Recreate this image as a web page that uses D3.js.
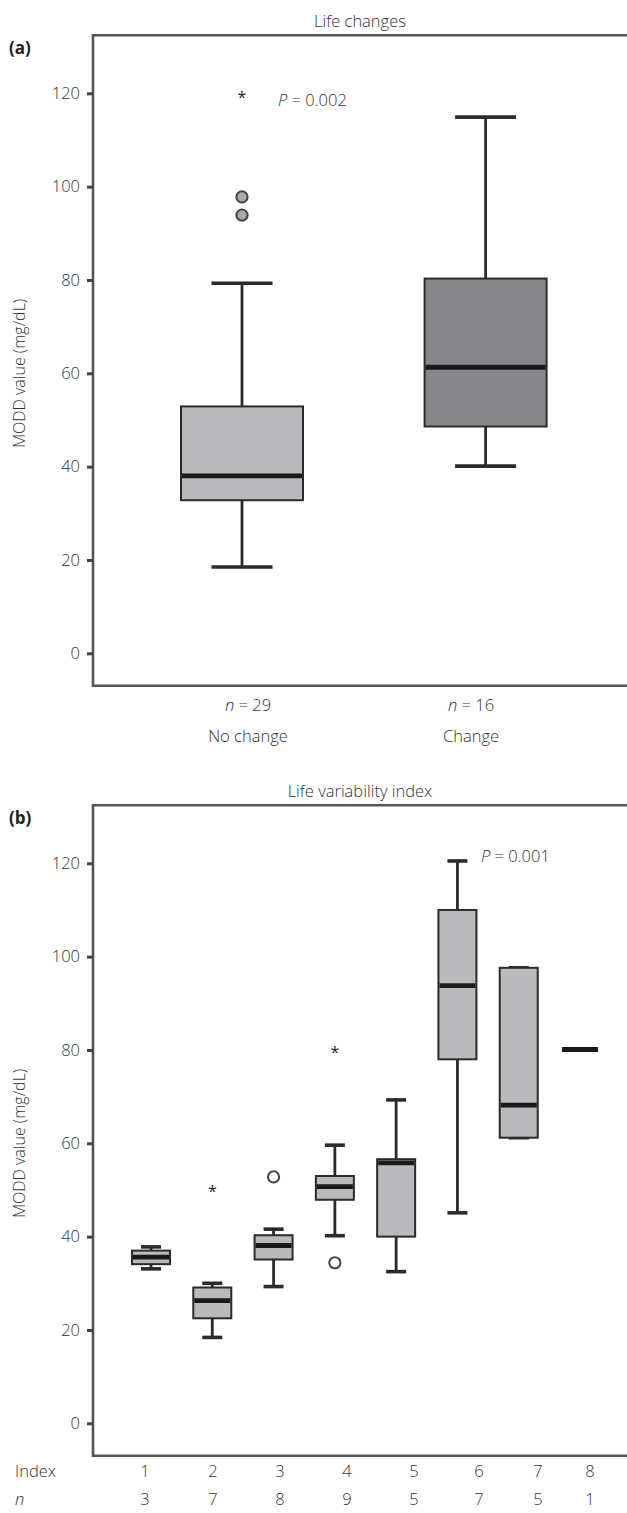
<!DOCTYPE html>
<html><head><meta charset="utf-8">
<script src="https://cdn.jsdelivr.net/npm/d3@7"></script>
<style>
body{margin:0;background:#fff}
text{font-family:"Open Sans","Noto Sans",sans-serif;fill:#333;font-weight:300}
</style>
</head><body><svg id="c" width="627" height="1513"></svg>
<script>
// ---------- data ----------
const yTicks = [0, 20, 40, 60, 80, 100, 120];

// Panel (a) Life changes
const aCats = ["No change", "Change"];
const aN = [29, 16];
const aLo  = [18.5, 40.1];
const aQ1  = [32.8, 48.6];
const aMed = [38.0, 61.3];
const aQ3  = [52.9, 80.3];
const aHi  = [79.3, 114.9];
const aOutCat = [0, 0];        const aOutVal = [97.8, 93.9];
const aExtCat = [0];           const aExtVal = [119.4];

// Panel (b) Life variability index
const bCats = ["1", "2", "3", "4", "5", "6", "7", "8"];
const bN = [3, 7, 8, 9, 5, 7, 5, 1];
const bLo  = [33.1, 18.4, 29.3, 40.2, 32.5, 45.1, 61.2, 80.1];
const bQ1  = [34.1, 22.5, 35.1, 47.9, 40.0, 78.0, 61.2, 80.1];
const bMed = [35.6, 26.3, 38.1, 50.7, 55.8, 93.8, 68.2, 80.1];
const bQ3  = [37.0, 29.1, 40.3, 53.0, 56.6, 110.0, 97.6, 80.1];
const bHi  = [37.8, 30.0, 41.6, 59.6, 69.3, 120.5, 97.6, 80.1];
const bOutCat = [2, 3];        const bOutVal = [52.8, 34.4];
const bExtCat = [1, 3];        const bExtVal = [50.0, 79.8];

// ---------- layout ----------
const W = 627;
const left = 93;
const frameCol = "#555", dark = "#2b2b2b";
// the category label row under panel (b) is typeset unevenly in the original
const bLabelRange = [145, 213, 280, 347, 414, 479, 538, 590];

const svg = d3.select("#c");

function panel(o) {
  const g = svg.append("g");
  const y = d3.scaleLinear().domain([0, 120]).range([o.y0, o.y0 - 560]);
  const top = o.y0 - 618, bottom = o.y0 + 32.5;

  g.append("text").attr("x", 360).attr("y", top - 8).attr("text-anchor", "middle")
    .style("font-size", "16.5px").text(o.title);
  g.append("text").attr("x", 9).attr("y", top + 19).style("font-size", "17px")
    .style("font-weight", 700).style("fill", "#222").text(o.letter);

  g.append("path").attr("d", `M${W+5},${top}H${left}V${bottom}H${W+5}`)
    .attr("fill", "none").attr("stroke", frameCol).attr("stroke-width", 2.6);

  const ax = g.append("g").attr("transform", `translate(${left},0)`)
    .call(d3.axisLeft(y).tickValues(yTicks).tickSize(6).tickPadding(7));
  ax.select(".domain").remove();
  ax.selectAll(".tick line").attr("stroke", "#444").attr("stroke-width", 3);
  ax.selectAll(".tick text").style("font-size", "16.5px").style("font-family", '"Open Sans",sans-serif')
    .style("font-weight", 300).attr("fill", "#333");

  g.append("text").attr("transform", `translate(25,${y(60)}) rotate(-90)`)
    .attr("text-anchor", "middle").style("font-size", "16px").text("MODD value (mg/dL)");

  const x = o.x;
  const bw = o.bw, cw = o.cw;
  const idx = d3.range(o.cats.length);
  const bx = g.append("g");

  bx.selectAll(".wh").data(idx).join("line")
    .attr("x1", i => x(o.cats[i])).attr("x2", i => x(o.cats[i]))
    .attr("y1", i => y(o.hi[i])).attr("y2", i => y(o.lo[i]))
    .attr("stroke", dark).attr("stroke-width", 2.8);
  [o.hi, o.lo].forEach(arr => {
    bx.selectAll(null).data(idx.filter(i => o.hi[i] !== o.lo[i])).join("line")
      .attr("x1", i => x(o.cats[i]) - cw / 2).attr("x2", i => x(o.cats[i]) + cw / 2)
      .attr("y1", i => y(arr[i])).attr("y2", i => y(arr[i]))
      .attr("stroke", dark).attr("stroke-width", 3.6);
  });
  bx.selectAll(".box").data(idx.filter(i => o.q3[i] !== o.q1[i])).join("rect")
    .attr("x", i => x(o.cats[i]) - bw / 2).attr("width", bw)
    .attr("y", i => y(o.q3[i])).attr("height", i => y(o.q1[i]) - y(o.q3[i]))
    .attr("fill", i => o.fill[i]).attr("stroke", dark).attr("stroke-width", 2);
  bx.selectAll(".med").data(idx).join("line")
    .attr("x1", i => x(o.cats[i]) - bw / 2 + 1).attr("x2", i => x(o.cats[i]) + bw / 2 - 1)
    .attr("y1", i => y(o.med[i])).attr("y2", i => y(o.med[i]))
    .attr("stroke", "#1a1a1a").attr("stroke-width", 4.8);

  bx.selectAll(".out").data(o.outCat.map((c, k) => ({ c, v: o.outVal[k] }))).join("circle")
    .attr("cx", d => x(o.cats[d.c])).attr("cy", d => y(d.v)).attr("r", 5.6)
    .attr("fill", o.outFill).attr("stroke", "#444").attr("stroke-width", 2);
  bx.selectAll(".ext").data(o.extCat.map((c, k) => ({ c, v: o.extVal[k] }))).join("text")
    .attr("x", d => x(o.cats[d.c])).attr("y", d => y(d.v) + 7).attr("text-anchor", "middle")
    .style("font-size", "16px").style("font-weight", 400).style("fill", "#222").text("*");

  const pt = g.append("text").attr("x", o.px).attr("y", y(o.pv) + 6).style("font-size", "16.5px");
  pt.append("tspan").style("font-style", "italic").text("P");
  pt.append("tspan").text(" = " + o.ptext);

  return { g, y, bottom };
}

// Panel (a)
const xA = d3.scalePoint().domain(aCats).range([242, 485.6]);
const A = panel({
  title: "Life changes", letter: "(a)", y0: 653.3, x: xA, cats: aCats,
  lo: aLo, q1: aQ1, med: aMed, q3: aQ3, hi: aHi,
  outCat: aOutCat, outVal: aOutVal, extCat: aExtCat, extVal: aExtVal,
  fill: ["#b9babd", "#86878b"], outFill: "#a9aaad", bw: 122, cw: 61,
  px: 278, pv: 118.5, ptext: "0.002"
});
const xAl = d3.scalePoint().domain(aCats).range([248, 471]);
aCats.forEach((c, i) => {
  const t = A.g.append("text").attr("x", xAl(c)).attr("y", A.bottom + 25).attr("text-anchor", "middle")
    .style("font-size", "16.5px");
  t.append("tspan").style("font-style", "italic").text("n");
  t.append("tspan").text(" = " + aN[i]);
  A.g.append("text").attr("x", xAl(c)).attr("y", A.bottom + 56).attr("text-anchor", "middle")
    .style("font-size", "16.5px").text(c);
});

// Panel (b)
const xB = d3.scalePoint().domain(bCats).range([151, 580]);
const B = panel({
  title: "Life variability index", letter: "(b)", y0: 1423.3, x: xB, cats: bCats,
  lo: bLo, q1: bQ1, med: bMed, q3: bQ3, hi: bHi,
  outCat: bOutCat, outVal: bOutVal, extCat: bExtCat, extVal: bExtVal,
  fill: bCats.map(() => "#b9babd"), outFill: "#fff", bw: 38, cw: 20,
  px: 481, pv: 121.5, ptext: "0.001"
});
const xBl = d3.scaleOrdinal().domain(bCats).range(bLabelRange);
B.g.append("text").attr("x", 15).attr("y", B.bottom + 21).style("font-size", "16.5px").text("Index");
B.g.append("text").attr("x", 15).attr("y", B.bottom + 49).style("font-size", "16.5px")
  .style("font-style", "italic").text("n");
bCats.forEach((c, i) => {
  B.g.append("text").attr("x", xBl(c)).attr("y", B.bottom + 21).attr("text-anchor", "middle")
    .style("font-size", "16.5px").text(c);
  B.g.append("text").attr("x", xBl(c)).attr("y", B.bottom + 49).attr("text-anchor", "middle")
    .style("font-size", "16.5px").text(bN[i]);
});
</script>
</body></html>
